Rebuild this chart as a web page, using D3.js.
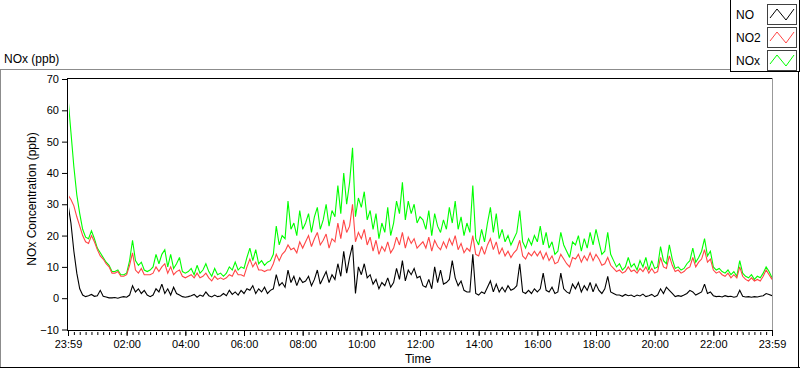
<!DOCTYPE html>
<html>
<head>
<meta charset="utf-8">
<script src="https://cdn.jsdelivr.net/npm/d3@7"></script>
<style>
  html, body { margin: 0; padding: 0; background: #fff; }
  svg { display: block; }
  text { font-family: "Liberation Sans", Arial, sans-serif; fill: #000; }
</style>
</head>
<body>
<svg id="chart" width="800" height="369"></svg>
<script>
// ---- Data (6-minute samples from 23:59 to 23:59 next day) ----
const seriesNames = ["NO", "NO2", "NOx"];
const seriesColors = ["#000000", "#ff4646", "#00ff00"];
const sampleMinutes = 6;

const noxValues = [
  64, 53, 42, 33, 27, 22, 19.5, 19, 21.5, 19, 16, 14.5, 13, 11.5, 10.5, 8.5, 8.5, 9, 7.5, 7.5,
  8, 12, 18.5, 12, 10.5, 11.5, 9, 8.5, 9, 10, 14, 11, 14, 15.5, 10, 14, 9.5, 11, 13, 8.5, 8,
  8.5, 9.5, 7.5, 10.5, 8, 9, 11, 8.5, 7, 9.5, 7.5, 8, 7, 8, 10, 9, 11.5, 9, 10, 9.5,
  13, 16, 12, 15.5, 11, 12, 10.5, 11.5, 12, 14, 23, 17, 20, 19, 31, 22, 24, 20, 28, 22,
  24, 27, 21, 26, 29, 22, 25, 30, 23, 28, 26, 36, 27, 40, 30, 37, 48, 26, 32, 29,
  34, 25, 28, 22, 27, 19, 24, 21, 29, 20, 24, 31, 27, 37, 25, 31, 27, 30, 24, 26,
  25, 22, 28, 20, 27, 23, 21, 25, 22, 29, 24, 31, 22, 26, 20, 24, 21, 36, 19, 17,
  22, 18, 24, 29, 21, 27, 19, 22, 18, 20, 17, 19, 21, 28, 18, 16, 19, 17, 20, 18,
  23, 17, 21, 16, 18, 14, 15, 21, 17, 15, 13, 18, 17, 20, 15, 19, 16, 21, 17, 22,
  18, 14, 15, 21, 14, 12, 10, 11, 9, 10, 13, 10, 11, 9, 12, 10, 13, 9, 12, 9.5,
  10, 16.5, 12, 11, 17, 12.5, 9.5, 10, 9, 9.5, 11, 12, 16, 11.5, 13, 15, 19, 13.5, 15, 10,
  9, 9.5, 8.5, 8, 9, 7.5, 8.5, 7, 12, 8, 7, 6.5, 7.5, 6, 7, 6.5, 8, 10, 8.5, 6.5
];

const no2Values = [
  33, 31.5, 29.5, 26, 23, 20, 18, 17.5, 20, 18, 15.5, 13.5, 12.5, 11, 10, 8, 8, 8.5, 7, 7,
  7.5, 10.5, 14.5, 9, 8, 9.5, 7.5, 7.5, 7.5, 8, 10, 8.5, 10, 11, 8, 10, 7.5, 8.5, 9, 7, 6.5,
  7, 7.5, 6.5, 8, 6.5, 7, 8, 6.5, 5.5, 7, 6, 6.5, 6, 6.5, 7.5, 7, 9, 7.5, 7.5, 7,
  10, 12.5, 10, 11.5, 9, 9, 8.5, 9, 9, 11, 14, 12, 14, 15, 17, 15.5, 16, 14.5, 18, 16,
  18, 20, 16.5, 19, 21, 17, 18.5, 20.5, 16, 19, 18, 24, 19, 25, 21, 23, 30, 18, 21, 19,
  22, 17, 19.5, 15, 18.5, 14, 16.5, 15, 18, 14.5, 16, 19.5, 17, 21, 16, 19.5, 17.5, 19, 16, 17,
  18, 16, 19.5, 15, 18.5, 16.5, 15.5, 18, 16, 19, 17, 20, 15.5, 17.5, 14.5, 16, 15, 20, 14, 13.5,
  16.5, 14, 17, 19, 15.5, 18, 14, 16, 13.5, 15, 13, 14.5, 15.5, 18.5, 13.5, 12.5, 14.5, 13.5, 15, 13.5,
  15, 12.5, 14.5, 12, 13.5, 11, 11.5, 14, 12.5, 11, 10, 13, 12.5, 14, 11.5, 13.5, 12, 14.5, 12, 14,
  12.5, 10.5, 11, 13, 10.5, 9.5, 8.5, 9, 8, 8.5, 10, 8.5, 9, 8, 9.5, 8.5, 10, 8, 9.5, 8,
  8.5, 13, 10, 9.5, 13.5, 10.5, 8.5, 9, 8, 8.5, 9.5, 10, 13, 10, 11.5, 12.5, 15.5, 11.5, 12.5, 9,
  8, 8.5, 7.5, 7, 8, 6.5, 7.5, 6.5, 10, 7, 6, 5.5, 6.5, 5.5, 6, 5.5, 7, 9, 7.5, 6
];

const noValues = [
  30, 24, 15, 8, 3, 1, 0.5, 0.8, 1.2, 0.6, 0.8, 2.5, 0.6, 0.4, 0.1, 0.1, 0.2, 0, 0.3, 0.5,
  0.3, 1, 4, 2, 3, 1.5, 2.5, 1, 0.5, 1, 3, 2, 4.5, 1.5, 3, 1, 3.5, 1.5, 1, 0.5, 0.3,
  0.5, 0.8, 1.2, 0.3, 1, 0.6, 2, 0.8, 0.4, 1, 0.5, 0.7, 1.5, 0.8, 2.5, 1.2, 2, 1, 2.5, 1.5,
  3, 2.5, 4, 1.5, 3, 2, 3.5, 1.5, 2.5, 3, 7.5, 4, 5, 3.5, 9, 5, 7, 4, 6.5, 5,
  5.5, 7, 4, 6, 9, 4.5, 6.5, 8.5, 5, 7.5, 6, 11, 7, 15, 8, 13, 17, 1.5, 10, 7.5,
  11, 6.5, 7.5, 4.5, 6, 3, 5, 4, 6.5, 3.5, 5, 9.5, 6, 12, 5.5, 9, 7.5, 9.5, 6.5, 7,
  4, 3.5, 6, 3, 10, 5, 9, 4.5, 5, 6, 12, 6.5, 4, 5.5, 2.5, 2, 2, 14, 1.5, 1,
  2, 1.5, 3.5, 5.5, 2, 4.5, 2, 3.5, 2, 4, 2.5, 3, 4, 11, 2, 1.5, 2.5, 1.5, 3, 2,
  3, 8, 2.5, 2, 3.5, 1.5, 2, 8, 3, 2, 1.5, 4.5, 3, 5, 2, 4, 2.5, 5, 2, 4.5,
  2.5, 1.5, 3, 7, 2, 1.5, 1, 1, 0.6, 1.2, 0.8, 1, 0.5, 1, 0.7, 1.3, 0.5, 0.8, 1.2, 0.5,
  1, 3, 1.5, 3.5, 2.5, 1.5, 0.5, 0.8, 0.6, 1, 1.5, 2.5, 2, 1, 1.5, 2, 4.5, 1.5, 2, 0.8,
  0.5, 0.6, 0.4, 0.8, 0.5, 0.6, 0.3, 0.5, 2.5, 0.6, 0.4, 0.5, 0.3, 0.5, 0.4, 0.6, 0.8, 1.5, 1.2, 0.8
];

const yTicks = [-10, 0, 10, 20, 30, 40, 50, 60, 70];
const xTickLabels = ["23:59", "02:00", "04:00", "06:00", "08:00", "10:00", "12:00",
                     "14:00", "16:00", "18:00", "20:00", "22:00", "23:59"];
const startTime = new Date(2000, 0, 1, 23, 59);
const endTime = new Date(2000, 0, 2, 23, 59);

// ---- Layout ----
const svg = d3.select("#chart");
const plot = { left: 68, right: 772, top: 78, bottom: 330 };

const x = d3.scaleTime().domain([startTime, endTime]).range([plot.left, plot.right]);
const y = d3.scaleLinear().domain([-10, 70]).range([329.5, 79]);

const timeOf = i => new Date(startTime.getTime() + i * sampleMinutes * 60000);

// Outer panel
svg.append("line").attr("x1", 0).attr("x2", 730).attr("y1", 69.5).attr("y2", 69.5)
  .attr("stroke", "#8c8c8c");
svg.append("line").attr("x1", 0.5).attr("x2", 0.5).attr("y1", 69).attr("y2", 368)
  .attr("stroke", "#8c8c8c");
svg.append("line").attr("x1", 0).attr("x2", 800).attr("y1", 367.5).attr("y2", 367.5)
  .attr("stroke", "#000");
svg.append("line").attr("x1", 798.5).attr("x2", 798.5).attr("y1", 69).attr("y2", 368)
  .attr("stroke", "#000");

// Title
svg.append("text").attr("x", 4).attr("y", 63).attr("font-size", 12).text("NOx (ppb)");

// Plot background
svg.append("rect").attr("x", plot.left).attr("y", plot.top)
  .attr("width", plot.right - plot.left).attr("height", plot.bottom - plot.top)
  .attr("fill", "#fff");

// Lines
svg.append("clipPath").attr("id", "clip").append("rect")
  .attr("x", plot.left + 1).attr("y", plot.top + 1)
  .attr("width", plot.right - plot.left - 1).attr("height", plot.bottom - plot.top - 1);

const line = d3.line()
  .x((d, i) => x(timeOf(i)))
  .y(d => y(d))
  .curve(d3.curveLinear);

const g = svg.append("g").attr("clip-path", "url(#clip)");
const drawOrder = [[noxValues, 2], [no2Values, 1], [noValues, 0]];
drawOrder.forEach(([vals, k]) => {
  g.append("path").datum(vals)
    .attr("d", line)
    .attr("fill", "none")
    .attr("stroke", seriesColors[k])
    .attr("stroke-width", 1.1)
    .attr("stroke-linejoin", "miter")
    .attr("stroke-miterlimit", 3);
});

// Frame
svg.append("line").attr("x1", plot.left - 0.5).attr("x2", plot.right).attr("y1", plot.top + 0.5).attr("y2", plot.top + 0.5).attr("stroke", "#000");
svg.append("line").attr("x1", plot.left - 0.5).attr("x2", plot.left - 0.5).attr("y1", plot.top).attr("y2", plot.bottom + 1).attr("stroke", "#000");
svg.append("line").attr("x1", plot.right + 0.5).attr("x2", plot.right + 0.5).attr("y1", plot.top).attr("y2", plot.bottom + 1).attr("stroke", "#999");
svg.append("line").attr("x1", plot.left - 1).attr("x2", plot.right + 1).attr("y1", plot.bottom + 0.5).attr("y2", plot.bottom + 0.5).attr("stroke", "#000");

// Y axis
const yAxis = d3.axisLeft(y).tickValues(yTicks).tickSize(5).tickPadding(3).tickSizeOuter(0);
const yg = svg.append("g").attr("transform", `translate(${plot.left - 1},0)`).call(yAxis);
yg.select(".domain").remove();
yg.selectAll("text").attr("font-size", 11).attr("font-family", "Liberation Sans, Arial, sans-serif").attr("fill", "#000");

// X axis: major + minor
const majorTimes = xTickLabels.map((_, i) => new Date(startTime.getTime() + i * 2 * 3600000));
const minorTimes = d3.range(0, 24 * 60 + 1, 12).map(m => new Date(startTime.getTime() + m * 60000));
const xMinor = d3.axisBottom(x).tickValues(minorTimes).tickSize(3).tickFormat("");
const xmg = svg.append("g").attr("transform", `translate(0,${plot.bottom + 2})`).call(xMinor);
xmg.select(".domain").remove();
const xAxis = d3.axisBottom(x).tickValues(majorTimes).tickSize(5).tickPadding(4)
  .tickFormat((d, i) => xTickLabels[i]);
const xg = svg.append("g").attr("transform", `translate(0,${plot.bottom + 1})`).call(xAxis);
xg.select(".domain").remove();
xg.selectAll("text").attr("font-size", 11).attr("font-family", "Liberation Sans, Arial, sans-serif").attr("fill", "#000");

// Axis titles
svg.append("text").attr("x", 418).attr("y", 363).attr("text-anchor", "middle")
  .attr("font-size", 12).text("Time");
svg.append("text").attr("transform", "translate(36,199) rotate(-90)")
  .attr("text-anchor", "middle").attr("font-size", 12).text("NOx Concentration (ppb)");

// Legend
const lg = svg.append("g");
lg.append("rect").attr("x", 730).attr("y", -1).attr("width", 69).attr("height", 72.5)
  .attr("fill", "#fff").attr("stroke", "none");
lg.append("line").attr("x1", 730.5).attr("x2", 730.5).attr("y1", 0).attr("y2", 72).attr("stroke", "#000");
lg.append("line").attr("x1", 730).attr("x2", 800).attr("y1", 71.5).attr("y2", 71.5).attr("stroke", "#000");
lg.append("line").attr("x1", 799.5).attr("x2", 799.5).attr("y1", 0).attr("y2", 72).attr("stroke", "#000");
seriesNames.forEach((name, k) => {
  const top = 4 + k * 23;
  lg.append("text").attr("x", 736).attr("y", top + 14.5).attr("font-size", 12).text(name);
  lg.append("rect").attr("x", 767.5).attr("y", top + 0.5).attr("width", 29).attr("height", 20)
    .attr("fill", "#fff").attr("stroke", "#404040");
  const pts = [[770, top + 14], [777, top + 5], [786, top + 16], [794, top + 5]];
  lg.append("path").attr("d", d3.line()(pts)).attr("fill", "none")
    .attr("stroke", seriesColors[k]).attr("stroke-width", 1);
});
</script>
</body>
</html>
